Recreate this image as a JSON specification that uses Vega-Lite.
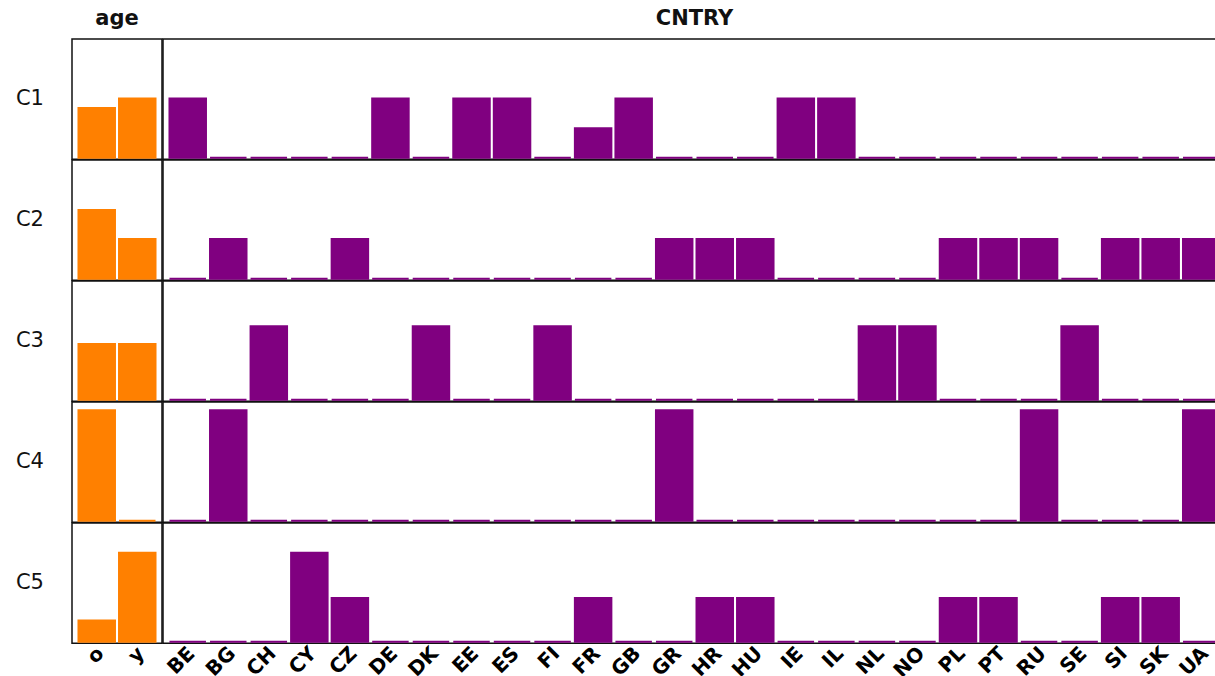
{
  "$schema": "https://vega.github.io/schema/vega-lite/v6.json",
  "padding": {"left": 15, "top": 8, "right": 0, "bottom": 0},
  "background": "white",
  "data": {
    "values": [
      {"cluster": "C1", "variable": "age", "level": "o", "prob": 0.42},
      {"cluster": "C1", "variable": "age", "level": "y", "prob": 0.5},
      {"cluster": "C2", "variable": "age", "level": "o", "prob": 0.58},
      {"cluster": "C2", "variable": "age", "level": "y", "prob": 0.335},
      {"cluster": "C3", "variable": "age", "level": "o", "prob": 0.47},
      {"cluster": "C3", "variable": "age", "level": "y", "prob": 0.47},
      {"cluster": "C4", "variable": "age", "level": "o", "prob": 0.93},
      {"cluster": "C4", "variable": "age", "level": "y", "prob": 0},
      {"cluster": "C5", "variable": "age", "level": "o", "prob": 0.18},
      {"cluster": "C5", "variable": "age", "level": "y", "prob": 0.75},

      {"cluster": "C1", "variable": "CNTRY", "level": "BE", "prob": 0.5},
      {"cluster": "C1", "variable": "CNTRY", "level": "BG", "prob": 0},
      {"cluster": "C1", "variable": "CNTRY", "level": "CH", "prob": 0},
      {"cluster": "C1", "variable": "CNTRY", "level": "CY", "prob": 0},
      {"cluster": "C1", "variable": "CNTRY", "level": "CZ", "prob": 0},
      {"cluster": "C1", "variable": "CNTRY", "level": "DE", "prob": 0.5},
      {"cluster": "C1", "variable": "CNTRY", "level": "DK", "prob": 0},
      {"cluster": "C1", "variable": "CNTRY", "level": "EE", "prob": 0.5},
      {"cluster": "C1", "variable": "CNTRY", "level": "ES", "prob": 0.5},
      {"cluster": "C1", "variable": "CNTRY", "level": "FI", "prob": 0},
      {"cluster": "C1", "variable": "CNTRY", "level": "FR", "prob": 0.25},
      {"cluster": "C1", "variable": "CNTRY", "level": "GB", "prob": 0.5},
      {"cluster": "C1", "variable": "CNTRY", "level": "GR", "prob": 0},
      {"cluster": "C1", "variable": "CNTRY", "level": "HR", "prob": 0},
      {"cluster": "C1", "variable": "CNTRY", "level": "HU", "prob": 0},
      {"cluster": "C1", "variable": "CNTRY", "level": "IE", "prob": 0.5},
      {"cluster": "C1", "variable": "CNTRY", "level": "IL", "prob": 0.5},
      {"cluster": "C1", "variable": "CNTRY", "level": "NL", "prob": 0},
      {"cluster": "C1", "variable": "CNTRY", "level": "NO", "prob": 0},
      {"cluster": "C1", "variable": "CNTRY", "level": "PL", "prob": 0},
      {"cluster": "C1", "variable": "CNTRY", "level": "PT", "prob": 0},
      {"cluster": "C1", "variable": "CNTRY", "level": "RU", "prob": 0},
      {"cluster": "C1", "variable": "CNTRY", "level": "SE", "prob": 0},
      {"cluster": "C1", "variable": "CNTRY", "level": "SI", "prob": 0},
      {"cluster": "C1", "variable": "CNTRY", "level": "SK", "prob": 0},
      {"cluster": "C1", "variable": "CNTRY", "level": "UA", "prob": 0},

      {"cluster": "C2", "variable": "CNTRY", "level": "BE", "prob": 0},
      {"cluster": "C2", "variable": "CNTRY", "level": "BG", "prob": 0.335},
      {"cluster": "C2", "variable": "CNTRY", "level": "CH", "prob": 0},
      {"cluster": "C2", "variable": "CNTRY", "level": "CY", "prob": 0},
      {"cluster": "C2", "variable": "CNTRY", "level": "CZ", "prob": 0.335},
      {"cluster": "C2", "variable": "CNTRY", "level": "DE", "prob": 0},
      {"cluster": "C2", "variable": "CNTRY", "level": "DK", "prob": 0},
      {"cluster": "C2", "variable": "CNTRY", "level": "EE", "prob": 0},
      {"cluster": "C2", "variable": "CNTRY", "level": "ES", "prob": 0},
      {"cluster": "C2", "variable": "CNTRY", "level": "FI", "prob": 0},
      {"cluster": "C2", "variable": "CNTRY", "level": "FR", "prob": 0},
      {"cluster": "C2", "variable": "CNTRY", "level": "GB", "prob": 0},
      {"cluster": "C2", "variable": "CNTRY", "level": "GR", "prob": 0.335},
      {"cluster": "C2", "variable": "CNTRY", "level": "HR", "prob": 0.335},
      {"cluster": "C2", "variable": "CNTRY", "level": "HU", "prob": 0.335},
      {"cluster": "C2", "variable": "CNTRY", "level": "IE", "prob": 0},
      {"cluster": "C2", "variable": "CNTRY", "level": "IL", "prob": 0},
      {"cluster": "C2", "variable": "CNTRY", "level": "NL", "prob": 0},
      {"cluster": "C2", "variable": "CNTRY", "level": "NO", "prob": 0},
      {"cluster": "C2", "variable": "CNTRY", "level": "PL", "prob": 0.335},
      {"cluster": "C2", "variable": "CNTRY", "level": "PT", "prob": 0.335},
      {"cluster": "C2", "variable": "CNTRY", "level": "RU", "prob": 0.335},
      {"cluster": "C2", "variable": "CNTRY", "level": "SE", "prob": 0},
      {"cluster": "C2", "variable": "CNTRY", "level": "SI", "prob": 0.335},
      {"cluster": "C2", "variable": "CNTRY", "level": "SK", "prob": 0.335},
      {"cluster": "C2", "variable": "CNTRY", "level": "UA", "prob": 0.335},

      {"cluster": "C3", "variable": "CNTRY", "level": "BE", "prob": 0},
      {"cluster": "C3", "variable": "CNTRY", "level": "BG", "prob": 0},
      {"cluster": "C3", "variable": "CNTRY", "level": "CH", "prob": 0.62},
      {"cluster": "C3", "variable": "CNTRY", "level": "CY", "prob": 0},
      {"cluster": "C3", "variable": "CNTRY", "level": "CZ", "prob": 0},
      {"cluster": "C3", "variable": "CNTRY", "level": "DE", "prob": 0},
      {"cluster": "C3", "variable": "CNTRY", "level": "DK", "prob": 0.62},
      {"cluster": "C3", "variable": "CNTRY", "level": "EE", "prob": 0},
      {"cluster": "C3", "variable": "CNTRY", "level": "ES", "prob": 0},
      {"cluster": "C3", "variable": "CNTRY", "level": "FI", "prob": 0.62},
      {"cluster": "C3", "variable": "CNTRY", "level": "FR", "prob": 0},
      {"cluster": "C3", "variable": "CNTRY", "level": "GB", "prob": 0},
      {"cluster": "C3", "variable": "CNTRY", "level": "GR", "prob": 0},
      {"cluster": "C3", "variable": "CNTRY", "level": "HR", "prob": 0},
      {"cluster": "C3", "variable": "CNTRY", "level": "HU", "prob": 0},
      {"cluster": "C3", "variable": "CNTRY", "level": "IE", "prob": 0},
      {"cluster": "C3", "variable": "CNTRY", "level": "IL", "prob": 0},
      {"cluster": "C3", "variable": "CNTRY", "level": "NL", "prob": 0.62},
      {"cluster": "C3", "variable": "CNTRY", "level": "NO", "prob": 0.62},
      {"cluster": "C3", "variable": "CNTRY", "level": "PL", "prob": 0},
      {"cluster": "C3", "variable": "CNTRY", "level": "PT", "prob": 0},
      {"cluster": "C3", "variable": "CNTRY", "level": "RU", "prob": 0},
      {"cluster": "C3", "variable": "CNTRY", "level": "SE", "prob": 0.62},
      {"cluster": "C3", "variable": "CNTRY", "level": "SI", "prob": 0},
      {"cluster": "C3", "variable": "CNTRY", "level": "SK", "prob": 0},
      {"cluster": "C3", "variable": "CNTRY", "level": "UA", "prob": 0},

      {"cluster": "C4", "variable": "CNTRY", "level": "BE", "prob": 0},
      {"cluster": "C4", "variable": "CNTRY", "level": "BG", "prob": 0.93},
      {"cluster": "C4", "variable": "CNTRY", "level": "CH", "prob": 0},
      {"cluster": "C4", "variable": "CNTRY", "level": "CY", "prob": 0},
      {"cluster": "C4", "variable": "CNTRY", "level": "CZ", "prob": 0},
      {"cluster": "C4", "variable": "CNTRY", "level": "DE", "prob": 0},
      {"cluster": "C4", "variable": "CNTRY", "level": "DK", "prob": 0},
      {"cluster": "C4", "variable": "CNTRY", "level": "EE", "prob": 0},
      {"cluster": "C4", "variable": "CNTRY", "level": "ES", "prob": 0},
      {"cluster": "C4", "variable": "CNTRY", "level": "FI", "prob": 0},
      {"cluster": "C4", "variable": "CNTRY", "level": "FR", "prob": 0},
      {"cluster": "C4", "variable": "CNTRY", "level": "GB", "prob": 0},
      {"cluster": "C4", "variable": "CNTRY", "level": "GR", "prob": 0.93},
      {"cluster": "C4", "variable": "CNTRY", "level": "HR", "prob": 0},
      {"cluster": "C4", "variable": "CNTRY", "level": "HU", "prob": 0},
      {"cluster": "C4", "variable": "CNTRY", "level": "IE", "prob": 0},
      {"cluster": "C4", "variable": "CNTRY", "level": "IL", "prob": 0},
      {"cluster": "C4", "variable": "CNTRY", "level": "NL", "prob": 0},
      {"cluster": "C4", "variable": "CNTRY", "level": "NO", "prob": 0},
      {"cluster": "C4", "variable": "CNTRY", "level": "PL", "prob": 0},
      {"cluster": "C4", "variable": "CNTRY", "level": "PT", "prob": 0},
      {"cluster": "C4", "variable": "CNTRY", "level": "RU", "prob": 0.93},
      {"cluster": "C4", "variable": "CNTRY", "level": "SE", "prob": 0},
      {"cluster": "C4", "variable": "CNTRY", "level": "SI", "prob": 0},
      {"cluster": "C4", "variable": "CNTRY", "level": "SK", "prob": 0},
      {"cluster": "C4", "variable": "CNTRY", "level": "UA", "prob": 0.93},

      {"cluster": "C5", "variable": "CNTRY", "level": "BE", "prob": 0},
      {"cluster": "C5", "variable": "CNTRY", "level": "BG", "prob": 0},
      {"cluster": "C5", "variable": "CNTRY", "level": "CH", "prob": 0},
      {"cluster": "C5", "variable": "CNTRY", "level": "CY", "prob": 0.75},
      {"cluster": "C5", "variable": "CNTRY", "level": "CZ", "prob": 0.37},
      {"cluster": "C5", "variable": "CNTRY", "level": "DE", "prob": 0},
      {"cluster": "C5", "variable": "CNTRY", "level": "DK", "prob": 0},
      {"cluster": "C5", "variable": "CNTRY", "level": "EE", "prob": 0},
      {"cluster": "C5", "variable": "CNTRY", "level": "ES", "prob": 0},
      {"cluster": "C5", "variable": "CNTRY", "level": "FI", "prob": 0},
      {"cluster": "C5", "variable": "CNTRY", "level": "FR", "prob": 0.37},
      {"cluster": "C5", "variable": "CNTRY", "level": "GB", "prob": 0},
      {"cluster": "C5", "variable": "CNTRY", "level": "GR", "prob": 0},
      {"cluster": "C5", "variable": "CNTRY", "level": "HR", "prob": 0.37},
      {"cluster": "C5", "variable": "CNTRY", "level": "HU", "prob": 0.37},
      {"cluster": "C5", "variable": "CNTRY", "level": "IE", "prob": 0},
      {"cluster": "C5", "variable": "CNTRY", "level": "IL", "prob": 0},
      {"cluster": "C5", "variable": "CNTRY", "level": "NL", "prob": 0},
      {"cluster": "C5", "variable": "CNTRY", "level": "NO", "prob": 0},
      {"cluster": "C5", "variable": "CNTRY", "level": "PL", "prob": 0.37},
      {"cluster": "C5", "variable": "CNTRY", "level": "PT", "prob": 0.37},
      {"cluster": "C5", "variable": "CNTRY", "level": "RU", "prob": 0},
      {"cluster": "C5", "variable": "CNTRY", "level": "SE", "prob": 0},
      {"cluster": "C5", "variable": "CNTRY", "level": "SI", "prob": 0.37},
      {"cluster": "C5", "variable": "CNTRY", "level": "SK", "prob": 0.37},
      {"cluster": "C5", "variable": "CNTRY", "level": "UA", "prob": 0}
    ]
  },
  "spacing": -1.5,
  "hconcat": [
    {
      "transform": [{"filter": "datum.variable === 'age'"}],
      "facet": {
        "row": {
          "field": "cluster", "type": "nominal",
          "header": {"title": null, "labelAngle": 0, "labelPadding": 0,
                     "labelFont": "DejaVu Sans", "labelFontSize": 21, "labelColor": "#111"}
        },
        "column": {
          "field": "variable", "type": "nominal",
          "header": {"title": null, "labelFont": "DejaVu Sans", "labelFontSize": 21,
                     "labelFontWeight": "bold", "labelColor": "#111", "labelPadding": 10}
        }
      },
      "spacing": 0,
      "bounds": "flush",
      "spec": {
        "width": {"step": 40.54},
        "height": 120.3,
        "mark": {"type": "bar", "color": "#FF8000", "stroke": "#FF8000", "strokeWidth": 2},
        "encoding": {
          "x": {
            "field": "level", "type": "nominal",
            "scale": {"paddingInner": 0.1, "paddingOuter": 0.16},
            "axis": {"title": null, "labelAngle": -45, "labelAlign": "right", "labelBaseline": "middle",
                     "labelFont": "DejaVu Sans", "labelFontWeight": "bold", "labelFontSize": 20,
                     "labelColor": "#000", "ticks": false, "domain": false, "labelPadding": 6,
                     "labelOffset": 4, "labelOverlap": false}
          },
          "y": {
            "field": "prob", "type": "quantitative",
            "scale": {"domain": [-0.012, 1], "nice": false, "zero": false},
            "axis": null
          }
        }
      }
    },
    {
      "transform": [{"filter": "datum.variable === 'CNTRY'"}],
      "facet": {
        "row": {"field": "cluster", "type": "nominal", "header": {"title": null, "labels": false}},
        "column": {
          "field": "variable", "type": "nominal",
          "header": {"title": null, "labelFont": "DejaVu Sans", "labelFontSize": 21,
                     "labelFontWeight": "bold", "labelColor": "#111", "labelPadding": 10}
        }
      },
      "spacing": 0,
      "bounds": "flush",
      "spec": {
        "width": {"step": 40.54},
        "height": 120.3,
        "mark": {"type": "bar", "color": "#800080", "stroke": "#800080", "strokeWidth": 2},
        "encoding": {
          "x": {
            "field": "level", "type": "nominal",
            "scale": {"paddingInner": 0.1, "paddingOuter": 0.16},
            "axis": {"title": null, "labelAngle": -45, "labelAlign": "right", "labelBaseline": "middle",
                     "labelFont": "DejaVu Sans", "labelFontWeight": "bold", "labelFontSize": 20,
                     "labelColor": "#000", "ticks": false, "domain": false, "labelPadding": 6,
                     "labelOffset": 4, "labelOverlap": false}
          },
          "y": {
            "field": "prob", "type": "quantitative",
            "scale": {"domain": [-0.012, 1], "nice": false, "zero": false},
            "axis": null
          }
        }
      }
    }
  ],
  "config": {
    "view": {"stroke": "#111", "strokeWidth": 1.5}
  }
}
